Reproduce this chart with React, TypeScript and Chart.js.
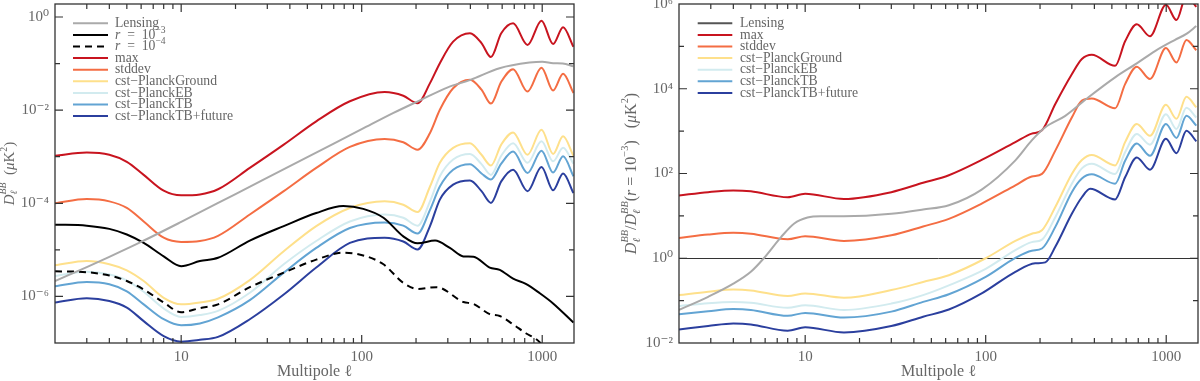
import React, { useEffect, useRef } from 'react';
import { Chart, registerables } from 'chart.js';
Chart.register(...registerables);

const FONT = "'Liberation Serif', 'DejaVu Serif', serif";
const TXT = '#666666';

// ---------- left panel: D_l^BB (muK^2) ----------
const ellLensL = [2, 3, 4, 6, 10, 20, 50, 100, 150, 210, 300, 400, 580, 850, 1000, 1150, 1300, 1489];
const lensL = [2.14e-6, 4.27e-6, 7.08e-6, 1.48e-5, 3.98e-5, 1.58e-4, 9.77e-4, 3.89e-3, 8.71e-3, 1.62e-2, 3.09e-2, 4.47e-2, 7.94e-2, 1.05e-1, 1.10e-1, 1.02e-1, 1.00e-1, 8.71e-2];

const ellL = [2, 3, 4, 5, 6.2, 8, 10, 12.7, 16, 24, 37, 56, 86, 134, 170, 204, 239, 271, 321, 398, 461, 520, 593, 690, 829, 991, 1149, 1305, 1489];
const maxL = [1.05e-3, 1.23e-3, 1.10e-3, 7.76e-4, 4.07e-4, 1.86e-4, 1.48e-4, 1.55e-4, 2.00e-4, 5.75e-4, 1.82e-3, 5.75e-3, 1.55e-2, 2.45e-2, 2.04e-2, 1.41e-2, 3.80e-2, 1.02e-1, 2.95e-1, 4.47e-1, 2.75e-1, 1.38e-1, 4.47e-1, 7.33e-1, 2.51e-1, 8.32e-1, 2.63e-1, 6.03e-1, 2.29e-1];
const stddevL = [1.00e-4, 1.23e-4, 1.10e-4, 7.94e-5, 4.07e-5, 1.82e-5, 1.48e-5, 1.55e-5, 2.00e-5, 5.75e-5, 1.82e-4, 5.75e-4, 1.62e-3, 2.40e-3, 2.04e-3, 1.41e-3, 3.24e-3, 1.02e-2, 2.95e-2, 4.47e-2, 2.75e-2, 1.38e-2, 4.07e-2, 7.59e-2, 2.51e-2, 8.13e-2, 2.63e-2, 6.03e-2, 2.34e-2];
const groundL = [4.68e-6, 5.75e-6, 4.90e-6, 3.63e-6, 2.14e-6, 9.33e-7, 6.76e-7, 7.41e-7, 8.91e-7, 2.24e-6, 9.33e-6, 3.24e-5, 7.94e-5, 1.10e-4, 9.33e-5, 6.46e-5, 2.29e-4, 7.41e-4, 1.55e-3, 1.95e-3, 1.10e-3, 6.46e-4, 1.82e-3, 3.31e-3, 1.10e-3, 3.80e-3, 1.15e-3, 2.75e-3, 1.05e-3];
const ebL = [2.75e-6, 3.39e-6, 2.95e-6, 2.19e-6, 1.26e-6, 5.50e-7, 3.63e-7, 3.98e-7, 4.90e-7, 1.20e-6, 4.90e-6, 1.55e-5, 4.07e-5, 5.75e-5, 4.90e-5, 3.31e-5, 1.10e-4, 3.80e-4, 8.71e-4, 1.15e-3, 6.92e-4, 4.07e-4, 1.05e-3, 1.95e-3, 7.41e-4, 2.14e-3, 7.94e-4, 1.55e-3, 7.08e-4];
const tbL = [1.66e-6, 2.04e-6, 1.82e-6, 1.29e-6, 6.76e-7, 3.24e-7, 2.40e-7, 2.63e-7, 3.55e-7, 8.32e-7, 3.24e-6, 1.10e-5, 2.95e-5, 3.89e-5, 3.31e-5, 2.24e-5, 7.24e-5, 2.29e-4, 5.25e-4, 6.92e-4, 4.37e-4, 3.24e-4, 7.08e-4, 1.29e-3, 4.47e-4, 1.35e-3, 4.57e-4, 1.02e-3, 3.80e-4];
const futureL = [7.41e-7, 9.12e-7, 7.94e-7, 5.75e-7, 2.95e-7, 1.41e-7, 1.07e-7, 1.17e-7, 1.35e-7, 3.24e-7, 1.10e-6, 4.17e-6, 1.41e-5, 1.82e-5, 1.51e-5, 1.02e-5, 3.24e-5, 1.20e-4, 2.51e-4, 3.09e-4, 1.82e-4, 1.02e-4, 2.95e-4, 5.25e-4, 1.82e-4, 6.03e-4, 1.91e-4, 4.37e-4, 1.66e-4];

const ellR3 = [2, 3, 4, 5, 6.2, 8, 10, 12.7, 16, 24, 37, 56, 79, 102, 132, 170, 204, 255, 308, 366, 416, 512, 582, 690, 811, 970, 1149, 1489];
const r3L = [3.47e-5, 3.31e-5, 2.82e-5, 2.14e-5, 1.41e-5, 7.24e-6, 4.47e-6, 5.75e-6, 6.76e-6, 1.58e-5, 3.24e-5, 6.17e-5, 8.71e-5, 7.59e-5, 4.90e-5, 1.95e-5, 1.38e-5, 1.58e-5, 1.10e-5, 7.24e-6, 7.08e-6, 4.17e-6, 3.72e-6, 2.40e-6, 1.86e-6, 1.17e-6, 7.08e-7, 2.75e-7];
const ellR4 = [2, 3, 4, 5, 6.2, 8, 10, 12.7, 16, 24, 37, 56, 79, 102, 132, 170, 204, 260, 366, 416, 512, 582, 690, 811, 928, 1100, 1489];
const r4L = [3.47e-6, 3.31e-6, 2.82e-6, 2.14e-6, 1.41e-6, 7.41e-7, 4.57e-7, 5.62e-7, 6.76e-7, 1.58e-6, 3.24e-6, 6.17e-6, 8.71e-6, 7.59e-6, 4.90e-6, 1.95e-6, 1.45e-6, 1.58e-6, 7.59e-7, 6.92e-7, 4.17e-7, 3.80e-7, 2.51e-7, 1.62e-7, 1.20e-7, 6.31e-8, 2.00e-8];

// ---------- right panel: ratio to r = 1e-3 ----------
const ellLensR = [2, 2.9, 4, 5, 5.9, 7.35, 8.7, 10.3, 12.2, 16.4, 30, 45, 62.5, 95, 146, 180, 214, 276, 371, 521, 687, 867, 1114, 1300, 1468];
const lensR = [0.0603, 0.123, 0.251, 0.479, 1.0, 3.16, 6.61, 9.12, 9.77, 9.77, 11.2, 14.1, 17.8, 41.7, 204, 603, 1230, 2291, 6310, 18621, 39811, 77625, 141254, 199526, 301995];

const ellRatio = [2, 2.9, 4, 5, 8, 10, 16.4, 30, 45, 62.5, 95, 146, 180, 205, 243, 300, 341, 387, 521, 592, 687, 813, 997, 1140, 1294, 1468];
const maxR = [30.2, 36.3, 39.8, 38.0, 27.5, 33.1, 25.1, 36.3, 60.3, 91.2, 209, 550, 871, 1047, 4365, 21878, 50119, 63096, 34674, 131826, 331131, 173780, 954993, 416869, 1584893, 851138];
const stddevR = [3.02, 3.63, 3.98, 3.80, 2.82, 3.31, 2.57, 3.47, 5.62, 8.51, 19.5, 52.5, 85.1, 97.7, 347, 2089, 5248, 5888, 3467, 12882, 33113, 16982, 91201, 41687, 141254, 81283];

const ellCstR = [2, 2.9, 4, 5, 8, 10, 16.4, 30, 45, 62.5, 100, 146, 180, 205, 243, 300, 341, 387, 521, 592, 687, 813, 997, 1140, 1294, 1468];
const groundR = [0.135, 0.162, 0.182, 0.174, 0.129, 0.148, 0.117, 0.178, 0.275, 0.398, 1.0, 2.57, 3.80, 4.57, 16.2, 97.7, 209, 275, 155, 550, 1479, 776, 4169, 1950, 6457, 3631];
const ebR = [0.0741, 0.0871, 0.0933, 0.0891, 0.0676, 0.0776, 0.0603, 0.0851, 0.135, 0.229, 0.562, 1.55, 2.40, 2.75, 9.33, 57.5, 132, 170, 97.7, 316, 851, 479, 2512, 1122, 3548, 2089];
const tbR = [0.0479, 0.0562, 0.0631, 0.0603, 0.0437, 0.0513, 0.0398, 0.0550, 0.0933, 0.141, 0.363, 1.02, 1.51, 1.70, 5.50, 36.3, 75.9, 95.5, 57.5, 200, 513, 263, 1479, 692, 2291, 1349];
const ellFutureR = [2, 2.9, 4, 5, 8, 10, 16.4, 30, 45, 62.5, 95, 146, 188, 214, 243, 300, 341, 379, 521, 592, 687, 813, 997, 1140, 1294, 1468];
const futureR = [0.0209, 0.0251, 0.0288, 0.0275, 0.0195, 0.0234, 0.0178, 0.0251, 0.0417, 0.0617, 0.148, 0.479, 0.759, 0.80, 1.86, 11.2, 27.5, 43.7, 24.5, 81.3, 240, 123, 661, 302, 1023, 575];

// ---------- ticks ----------
const xTicks = [10, 100, 1000];
const yTicksL = [1e-6, 1e-4, 1e-2, 1];
const yTicksR = [1e-2, 1, 1e2, 1e4, 1e6];

const C = {
  lens: '#aaaaaa',
  max: '#c8141f',
  std: '#f46d43',
  ground: '#fee08b',
  eb: '#d2ebef',
  tb: '#62a4d3',
  future: '#2b3f9e',
};

const SUP: Record<string, string> = { '0': '⁰', '1': '¹', '2': '²', '3': '³', '4': '⁴', '5': '⁵', '6': '⁶', '7': '⁷', '8': '⁸', '9': '⁹', '-': '⁻' };
const pow10Label = (v: number) => '10' + String(Math.round(Math.log10(v))).split('').map((c) => SUP[c]).join('');

const ds = (label: string, ell: number[], vals: number[], color: string, extra: any = {}) => ({
  label,
  data: ell.map((e, i) => ({ x: e, y: vals[i] })),
  borderColor: color,
  backgroundColor: color,
  borderWidth: 2,
  pointRadius: 0,
  fill: false,
  cubicInterpolationMode: 'monotone',
  ...extra,
});

// text pieces; "o" = overlap (stack on top of the previous piece)
type Piece = { t: string; s?: number; i?: boolean; dy?: number; o?: boolean };

const layoutPieces = (ctx: CanvasRenderingContext2D, pieces: Piece[], size: number, draw: boolean, x0: number, y0: number) => {
  let tx = x0;
  let prevStart = x0;
  let prevW = 0;
  for (const p of pieces) {
    ctx.font = `${p.i ? 'italic ' : ''}${size * (p.s || 1)}px ${FONT}`;
    const w = ctx.measureText(p.t).width;
    let start = tx;
    if (p.o) {
      start = prevStart;
      if (draw) ctx.fillText(p.t, start, y0 + (p.dy || 0) * size);
      tx = prevStart + Math.max(prevW, w);
      prevW = Math.max(prevW, w);
      continue;
    }
    if (draw) ctx.fillText(p.t, start, y0 + (p.dy || 0) * size);
    prevStart = start;
    prevW = w;
    tx = start + w;
  }
  return tx - x0;
};

const decorPlugin = {
  id: 'decor',
  beforeDatasetsDraw(chart: any, _a: any, opts: any) {
    if (opts.hline == null) return;
    const { ctx, chartArea: a } = chart;
    const y = Math.round(chart.scales.y.getPixelForValue(opts.hline)) + 0.5;
    ctx.save();
    ctx.strokeStyle = '#333';
    ctx.lineWidth = 1;
    ctx.beginPath();
    ctx.moveTo(a.left, y);
    ctx.lineTo(a.right, y);
    ctx.stroke();
    ctx.restore();
  },
  afterDraw(chart: any, _a: any, opts: any) {
    const { ctx, chartArea: a } = chart;
    const x = chart.scales.x;
    const y = chart.scales.y;
    ctx.save();
    ctx.strokeStyle = '#333';
    ctx.lineWidth = 1.3;
    ctx.strokeRect(a.left, a.top, a.right - a.left, a.bottom - a.top);
    ctx.beginPath();
    ctx.lineWidth = 1.2;
    for (let d = 1; d <= 1000; d *= 10) {
      for (let m = 1; m <= 9; m++) {
        const v = m * d;
        if (v <= x.min || v >= x.max) continue;
        const px = x.getPixelForValue(v);
        const len = m === 1 ? 8 : 5;
        ctx.moveTo(px, a.bottom);
        ctx.lineTo(px, a.bottom - len);
        ctx.moveTo(px, a.top);
        ctx.lineTo(px, a.top + len);
      }
    }
    for (let e = opts.yMinExp; e <= opts.yMaxExp; e++) {
      const v = Math.pow(10, e);
      if (v <= y.min * 1.001 || v >= y.max / 1.001) continue;
      const py = y.getPixelForValue(v);
      const len = opts.yMajor.includes(e) ? 8 : 5;
      ctx.moveTo(a.left, py);
      ctx.lineTo(a.left + len, py);
      ctx.moveTo(a.right, py);
      ctx.lineTo(a.right - len, py);
    }
    ctx.stroke();

    // rotated y title with sub/superscripts
    const yt = opts.ytitle;
    if (yt) {
      ctx.save();
      ctx.fillStyle = TXT;
      ctx.textBaseline = 'middle';
      ctx.textAlign = 'left';
      const cy = (a.top + a.bottom) / 2;
      ctx.translate(yt.x, cy);
      ctx.rotate(-Math.PI / 2);
      const w = layoutPieces(ctx, yt.pieces, yt.size, false, 0, 0);
      layoutPieces(ctx, yt.pieces, yt.size, true, -w / 2, 0);
      ctx.restore();
    }

    const lg = opts.legend;
    if (lg) {
      ctx.textBaseline = 'middle';
      ctx.textAlign = 'left';
      lg.items.forEach((it: any, i: number) => {
        const yy = lg.y0 + i * lg.dy;
        ctx.beginPath();
        ctx.setLineDash(it.dash || []);
        ctx.strokeStyle = it.color;
        ctx.lineWidth = 2;
        ctx.moveTo(lg.x0, yy);
        ctx.lineTo(lg.x1, yy);
        ctx.stroke();
        ctx.setLineDash([]);
        ctx.fillStyle = TXT;
        layoutPieces(ctx, it.parts, lg.size, true, lg.tx, yy);
      });
    }
    ctx.restore();
  },
};

const xScale = () => ({
  type: 'logarithmic',
  position: 'bottom',
  min: 2,
  max: 1500,
  afterBuildTicks: (s: any) => {
    s.ticks = xTicks.map((v) => ({ value: v }));
  },
  afterFit: (s: any) => {
    s.height = 38;
    s.paddingLeft = 0;
    s.paddingRight = 0;
  },
  grid: { display: false, drawTicks: false },
  border: { display: false },
  ticks: {
    color: TXT,
    font: { family: FONT, size: 15 },
    padding: 5,
    maxRotation: 0,
    autoSkip: false,
    callback: (v: any) => String(v),
  },
  title: { display: true, text: 'Multipole ℓ', color: TXT, font: { family: FONT, size: 16 }, padding: { top: 0, bottom: 0 } },
});

const yScale = (min: number, max: number, ticks: number[], width: number) => ({
  type: 'logarithmic',
  position: 'left',
  min,
  max,
  afterBuildTicks: (s: any) => {
    s.ticks = ticks.map((v) => ({ value: v }));
  },
  afterFit: (s: any) => {
    s.width = width;
    s.paddingTop = 0;
    s.paddingBottom = 0;
  },
  grid: { display: false, drawTicks: false },
  border: { display: false },
  ticks: {
    color: TXT,
    font: { family: FONT, size: 15 },
    padding: 6,
    autoSkip: false,
    callback: (v: any) => pow10Label(Number(v)),
  },
  title: { display: false },
});

const leg = (text: string, color: string, dash?: number[]) => ({ parts: [{ t: text }], color, dash });
const legR = (exp: string, dash?: number[]) => ({
  parts: [{ t: 'r', i: true }, { t: '  =  10' }, { t: exp, s: 0.7, dy: -0.35 }],
  color: '#000',
  dash,
});

const dBB: Piece[] = [
  { t: 'D', i: true },
  { t: 'ℓ', s: 0.65, i: true, dy: 0.3 },
  { t: 'BB', s: 0.65, i: true, dy: -0.45, o: true },
];
const unitPieces: Piece[] = [
  { t: '  (' },
  { t: 'μ', i: true },
  { t: 'K' },
  { t: '2', s: 0.65, dy: -0.4 },
  { t: ')' },
];
const leftTitle: Piece[] = [...dBB, ...unitPieces];
const rightTitle: Piece[] = [
  ...dBB,
  { t: '/' },
  ...dBB,
  { t: '(' },
  { t: 'r', i: true },
  { t: ' = 10' },
  { t: '−3', s: 0.65, dy: -0.4 },
  { t: ')' },
  { t: ' ' },
  ...unitPieces,
];

const leftConfig = (): any => ({
  type: 'line',
  data: {
    datasets: [
      ds('Lensing', ellLensL, lensL, C.lens),
      ds('r = 10⁻³', ellR3, r3L, '#000000'),
      ds('r = 10⁻⁴', ellR4, r4L, '#000000', { borderDash: [7, 5] }),
      ds('max', ellL, maxL, C.max),
      ds('stddev', ellL, stddevL, C.std),
      ds('cst−PlanckGround', ellL, groundL, C.ground),
      ds('cst−PlanckEB', ellL, ebL, C.eb),
      ds('cst−PlanckTB', ellL, tbL, C.tb),
      ds('cst−PlanckTB+future', ellL, futureL, C.future),
    ],
  },
  options: {
    responsive: false,
    animation: false,
    devicePixelRatio: 1,
    layout: { padding: { left: 0, top: 4, right: 16, bottom: 0 } },
    scales: {
      x: xScale(),
      y: yScale(1e-7, 1.9, yTicksL, 55),
    },
    plugins: {
      legend: { display: false },
      tooltip: { enabled: false },
      decor: {
        yMinExp: -7,
        yMaxExp: 0,
        yMajor: [-6, -4, -2, 0],
        ytitle: { x: 10, size: 15, pieces: leftTitle },
        legend: {
          x0: 73,
          x1: 108,
          tx: 115,
          y0: 23.3,
          dy: 11.6,
          size: 13.7,
          items: [
            leg('Lensing', C.lens),
            legR('−3'),
            legR('−4', [7, 5]),
            leg('max', C.max),
            leg('stddev', C.std),
            leg('cst−PlanckGround', C.ground),
            leg('cst−PlanckEB', C.eb),
            leg('cst−PlanckTB', C.tb),
            leg('cst−PlanckTB+future', C.future),
          ],
        },
      },
    },
  },
  plugins: [decorPlugin],
});

const rightConfig = (): any => ({
  type: 'line',
  data: {
    datasets: [
      ds('Lensing', ellLensR, lensR, C.lens),
      ds('max', ellRatio, maxR, C.max),
      ds('stddev', ellRatio, stddevR, C.std),
      ds('cst−PlanckGround', ellCstR, groundR, C.ground),
      ds('cst−PlanckEB', ellCstR, ebR, C.eb),
      ds('cst−PlanckTB', ellCstR, tbR, C.tb),
      ds('cst−PlanckTB+future', ellFutureR, futureR, C.future),
    ],
  },
  options: {
    responsive: false,
    animation: false,
    devicePixelRatio: 1,
    layout: { padding: { left: 36, top: 4, right: 2, bottom: 0 } },
    scales: {
      x: xScale(),
      y: yScale(1e-2, 1e6, yTicksR, 53),
    },
    plugins: {
      legend: { display: false },
      tooltip: { enabled: false },
      decor: {
        hline: 1,
        yMinExp: -2,
        yMaxExp: 6,
        yMajor: [-2, 0, 2, 4, 6],
        ytitle: { x: 42, size: 16, pieces: rightTitle },
        legend: {
          x0: 107.7,
          x1: 142.3,
          tx: 150,
          y0: 23.3,
          dy: 11.6,
          size: 13.7,
          items: [
            leg('Lensing', '#555555'),
            leg('max', C.max),
            leg('stddev', C.std),
            leg('cst−PlanckGround', C.ground),
            leg('cst−PlanckEB', C.eb),
            leg('cst−PlanckTB', C.tb),
            leg('cst−PlanckTB+future', C.future),
          ],
        },
      },
    },
  },
  plugins: [decorPlugin],
});

export default function App() {
  const lRef = useRef<HTMLCanvasElement>(null);
  const rRef = useRef<HTMLCanvasElement>(null);
  useEffect(() => {
    const c1 = new Chart(lRef.current as HTMLCanvasElement, leftConfig());
    const c2 = new Chart(rRef.current as HTMLCanvasElement, rightConfig());
    return () => {
      c1.destroy();
      c2.destroy();
    };
  }, []);
  return (
    <div style={{ position: 'absolute', left: 0, top: 0, width: 1200, height: 381, background: '#ffffff', overflow: 'hidden' }}>
      <canvas ref={lRef} width={590} height={381} style={{ position: 'absolute', left: 0, top: 0, width: 590, height: 381 }} />
      <canvas ref={rRef} width={610} height={381} style={{ position: 'absolute', left: 590, top: 0, width: 610, height: 381 }} />
    </div>
  );
}
